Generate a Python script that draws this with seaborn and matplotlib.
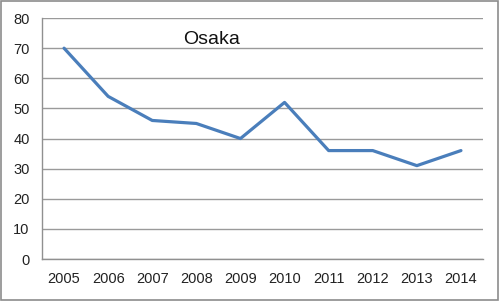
import matplotlib
matplotlib.use("Agg")
import matplotlib.pyplot as plt
import seaborn as sns
import pandas as pd
import numpy as np
from matplotlib.patches import Rectangle

years = ["2005", "2006", "2007", "2008", "2009", "2010", "2011", "2012", "2013", "2014"]
values = [70, 54, 46, 45, 40, 52, 36, 36, 31, 36]
yticks = [0, 10, 20, 30, 40, 50, 60, 70, 80]
title = "Osaka"

sns.set_style("white")
plt.rcParams['font.family'] = ['Liberation Sans', 'DejaVu Sans']

df = pd.DataFrame({"pos": np.arange(len(years)), "value": values})

fig = plt.figure(figsize=(5.0, 3.01), dpi=100)
ax = fig.add_axes([0.084, 0.1395, 0.882, 0.8005])

sns.lineplot(data=df, x="pos", y="value", ax=ax, color="#4A7EBB", linewidth=2.3)

ax.set_xlim(-0.5, len(years) - 0.5)
ax.set_ylim(0, 80)
ax.set_yticks(yticks)
ax.set_yticklabels([str(t) for t in yticks], fontsize=10.5, color="#222222")
ax.set_xticks(np.arange(len(years) + 1) - 0.5)
ax.set_xticklabels([])
ax.set_xticks(np.arange(len(years)), minor=True)
ax.set_xticklabels(years, minor=True, fontsize=10.5, color="#222222")
ax.tick_params(axis="x", which="major", direction="out", length=5, color="#909090", width=1)
ax.tick_params(axis="x", which="minor", length=0, pad=9)
ax.tick_params(axis="y", direction="out", length=5, color="#909090", width=1, pad=4)
ax.set_xlabel("")
ax.set_ylabel("")

ax.yaxis.grid(True, color="#9a9a9a", linewidth=1)
ax.set_axisbelow(True)
for s in ["top", "right"]:
    ax.spines[s].set_visible(False)
for s in ["left", "bottom"]:
    ax.spines[s].set_color("#909090")
    ax.spines[s].set_linewidth(1)

fig.text(212 / 500, 1 - 39 / 301, title, fontsize=14, ha="center", va="center", color="#111111")

fig.patches.append(Rectangle((0.002, 0.004), 0.994, 0.992, transform=fig.transFigure,
                             fill=False, edgecolor="#8c8c8c", linewidth=1.2))

fig.savefig("out.png", dpi=100)
